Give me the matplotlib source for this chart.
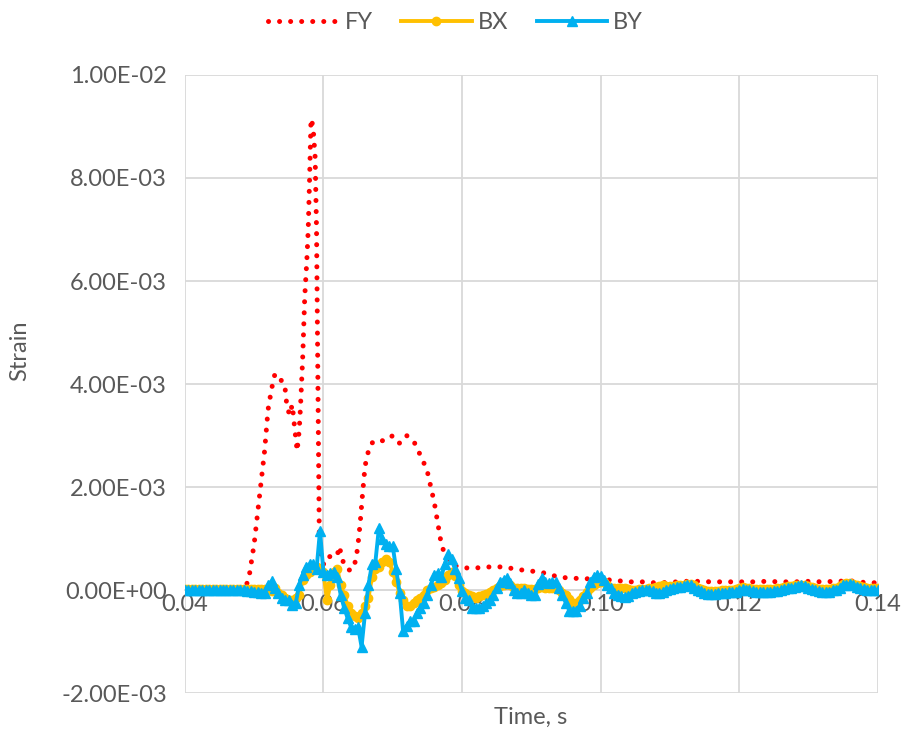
import numpy as np
import matplotlib
matplotlib.use("Agg")
import matplotlib.pyplot as plt
from matplotlib.ticker import FuncFormatter

plt.rcParams['font.family'] = ['Lato', 'DejaVu Sans']

# Time base for BX / BY (s)
t_start = 0.04
t_step = 0.0005
n_pts = 201
time_b = np.round(t_start + t_step * np.arange(n_pts), 5)

# Strain values in units of 1e-3
by_milli = [
    0.0, 0.0, 0.0, 0.0, 0.0, 0.0, 0.0, 0.0, 0.0, 0.0,
    0.0, 0.0, 0.0, 0.0, 0.0, 0.0, 0.0, 0.0, -0.01, -0.02,
    -0.03, -0.04, -0.05, -0.05, 0.1, 0.17, 0.05, -0.05, -0.15, -0.2,
    -0.2, -0.28, -0.25, 0.1, 0.3, 0.45, 0.5, 0.5, 0.4, 1.15,
    0.35, 0.3, 0.33, 0.35, 0.25, -0.1, -0.35, -0.55, -0.72, -0.75,
    -0.72, -1.1, -0.45, 0.1, 0.5, 0.55, 1.2, 1.0, 0.9, 0.85,
    0.85, 0.4, -0.05, -0.8, -0.7, -0.6, -0.6, -0.45, -0.35, -0.25,
    -0.1, 0.1, 0.3, 0.33, 0.25, 0.5, 0.7, 0.6, 0.4, 0.23,
    -0.02, -0.15, -0.2, -0.35, -0.35, -0.35, -0.3, -0.25, -0.2, -0.1,
    0.04, 0.15, 0.2, 0.23, 0.13, 0.0, -0.05, -0.06, 0.0, -0.05,
    -0.1, -0.1, 0.12, 0.23, 0.15, 0.13, 0.15, 0.15, 0.05, -0.1,
    -0.25, -0.4, -0.4, -0.4, -0.3, -0.15, -0.05, 0.15, 0.25, 0.3,
    0.28, 0.2, 0.1, 0.04, -0.05, -0.1, -0.12, -0.13, -0.12, -0.06,
    -0.04, -0.02, 0.0, 0.0, 0.0, -0.02, -0.05, -0.06, -0.03, 0.0,
    0.02, 0.04, 0.06, 0.06, 0.08, 0.1, 0.1, 0.05, 0.0, -0.02,
    -0.06, -0.08, -0.08, -0.07, -0.06, -0.06, -0.05, -0.04, -0.04, -0.03,
    0.0, 0.02, 0.0, 0.0, -0.02, -0.03, -0.04, -0.04, -0.04, -0.03,
    -0.02, -0.02, 0.0, 0.02, 0.04, 0.04, 0.06, 0.08, 0.1, 0.08,
    0.05, 0.03, 0.0, -0.02, -0.04, -0.04, -0.03, 0.0, 0.0, 0.05,
    0.1, 0.1, 0.12, 0.1, 0.06, 0.04, 0.02, 0.0, 0.0, 0.0,
    0.0,
]

bx_milli = [
    0.03, 0.03, 0.03, 0.03, 0.03, 0.03, 0.03, 0.03, 0.03, 0.03,
    0.03, 0.03, 0.03, 0.03, 0.03, 0.03, 0.03, 0.03, 0.03, 0.02,
    0.02, 0.02, 0.02, 0.02, 0.0, -0.02, 0.05, -0.05, -0.1, -0.15,
    -0.2, -0.2, -0.15, -0.1, 0.2, 0.3, 0.35, 0.45, 0.45, 0.4,
    0.35, -0.2, 0.1, 0.35, 0.4, 0.1, -0.1, -0.3, -0.45, -0.5,
    -0.55, -0.45, -0.3, -0.15, 0.25, 0.4, 0.45, 0.55, 0.6, 0.55,
    0.35, 0.15, -0.05, -0.2, -0.3, -0.3, -0.25, -0.2, -0.15, -0.1,
    0.0, 0.05, 0.06, 0.1, 0.13, 0.2, 0.3, 0.35, 0.28, 0.1,
    -0.02, -0.05, -0.1, -0.12, -0.15, -0.12, -0.1, -0.07, -0.04, 0.0,
    0.04, 0.08, 0.1, 0.12, 0.1, 0.05, 0.04, 0.04, 0.04, 0.03,
    0.02, 0.03, 0.05, 0.06, 0.05, 0.05, 0.05, 0.04, 0.0, -0.05,
    -0.1, -0.18, -0.25, -0.25, -0.2, -0.12, -0.03, 0.05, 0.1, 0.13,
    0.15, 0.15, 0.1, 0.05, 0.05, 0.05, 0.05, 0.05, 0.02, 0.0,
    0.0, 0.02, 0.03, 0.03, 0.04, 0.05, 0.06, 0.08, 0.1, 0.08,
    0.08, 0.08, 0.09, 0.1, 0.1, 0.12, 0.12, 0.1, 0.05, 0.03,
    0.0, -0.02, -0.02, -0.02, -0.01, 0.0, 0.0, 0.0, 0.0, 0.02,
    0.04, 0.06, 0.05, 0.04, 0.03, 0.02, 0.02, 0.02, 0.02, 0.03,
    0.03, 0.04, 0.05, 0.06, 0.07, 0.08, 0.09, 0.1, 0.1, 0.1,
    0.08, 0.06, 0.04, 0.03, 0.02, 0.02, 0.03, 0.04, 0.05, 0.08,
    0.12, 0.13, 0.14, 0.12, 0.1, 0.08, 0.06, 0.05, 0.05, 0.05,
    0.05,
]

# FY series (time in s, strain in 1e-3)
fy_time = [
    0.040, 0.044, 0.0485, 0.0492, 0.0500, 0.0505, 0.0510, 0.0515, 0.0520, 0.0525,
    0.0530, 0.0537, 0.0544, 0.0547, 0.0551, 0.0555, 0.0558, 0.0562, 0.0565, 0.0567,
    0.0570, 0.0573, 0.0576, 0.0578, 0.0580, 0.0582, 0.0585, 0.0588, 0.0590, 0.0592,
    0.0594, 0.0597, 0.0600, 0.0605, 0.0610, 0.0615, 0.0620, 0.0623, 0.0627, 0.0630,
    0.0635, 0.0640, 0.0645, 0.0648, 0.0650, 0.0653, 0.0656, 0.0660, 0.0663, 0.0667,
    0.0673, 0.0680, 0.0690, 0.0700, 0.0710, 0.0720, 0.0730, 0.0737, 0.0744, 0.0750,
    0.0755, 0.0760, 0.0765, 0.0770, 0.0775, 0.0785, 0.0800, 0.0820, 0.0840, 0.0860,
    0.0880, 0.0900, 0.0920, 0.0940, 0.0960, 0.0980, 0.1000, 0.1020, 0.1040, 0.1060,
    0.1080, 0.1100, 0.1120, 0.1140, 0.1160, 0.1180, 0.1200, 0.1220, 0.1240, 0.1260,
    0.1280, 0.1300, 0.1320, 0.1340, 0.1360, 0.1380, 0.1400,
]
fy_milli = [
    0.0, 0.0, 0.0, 0.2, 0.9, 1.5, 2.1, 2.7, 3.5, 3.9,
    4.2, 4.1, 4.0, 3.6, 3.4, 3.6, 3.2, 2.7, 3.1, 3.6,
    4.5, 5.7, 6.4, 7.0, 8.0, 9.15, 9.0, 8.4, 7.0, 4.0,
    1.0, 0.6, 0.5, 0.65, 0.65, 0.7, 0.68, 0.85, 0.6, 0.5,
    0.4, 0.38, 0.5, 0.7, 0.9, 1.3, 1.8, 2.4, 2.6, 2.8,
    2.9, 2.9, 2.9, 3.0, 2.85, 3.0, 2.9, 2.7, 2.5, 2.3,
    2.0, 1.7, 1.3, 0.9, 0.7, 0.5, 0.43, 0.43, 0.45, 0.45,
    0.4, 0.37, 0.33, 0.25, 0.23, 0.22, 0.21, 0.19, 0.16, 0.16,
    0.14, 0.15, 0.17, 0.17, 0.16, 0.16, 0.16, 0.16, 0.17, 0.16,
    0.16, 0.17, 0.16, 0.17, 0.18, 0.15, 0.14,
]

x_ticks = [0.04, 0.06, 0.08, 0.10, 0.12, 0.14]
y_ticks = [-0.002, 0.0, 0.002, 0.004, 0.006, 0.008, 0.010]

scale = 1e-3
fy = np.array(fy_milli) * scale
bx = np.array(bx_milli) * scale
by = np.array(by_milli) * scale

text_col = '#595959'
grid_col = '#D9D9D9'
fs = 17

fig = plt.figure(figsize=(9.02, 7.35), dpi=100)
ax = fig.add_axes([0.205, 0.057, 0.768, 0.841])

ax.plot(fy_time, fy, color='#FF0000', lw=3.6, linestyle=(0, (0.01, 2.2)),
        dash_capstyle='round', solid_capstyle='round', label='FY', zorder=3)
ax.plot(time_b, bx, color='#FFC000', lw=2.8, marker='o', markersize=6,
        label='BX', zorder=4)
ax.plot(time_b, by, color='#00B0F0', lw=2.8, marker='^', markersize=7,
        label='BY', zorder=5)

ax.set_xlim(0.04, 0.14)
ax.set_ylim(-0.002, 0.010)
ax.set_xticks(x_ticks)
ax.set_yticks(y_ticks)
ax.xaxis.set_major_formatter(FuncFormatter(lambda v, p: f"{v:.2f}"))
ax.yaxis.set_major_formatter(FuncFormatter(lambda v, p: f"{v:.2E}"))

ax.grid(True, color=grid_col, lw=1.3, zorder=0)
ax.set_axisbelow(True)
for s in ['top', 'right', 'left']:
    ax.spines[s].set_visible(False)
ax.spines['bottom'].set_position(('data', 0))
ax.spines['bottom'].set_color(grid_col)
ax.spines['bottom'].set_linewidth(1.3)
ax.spines['bottom'].set_zorder(1)

ax.tick_params(axis='both', length=0, labelsize=fs, colors=text_col)
ax.tick_params(axis='y', pad=13)
ax.tick_params(axis='x', pad=3)

fig.text(0.022, 0.523, 'Strain', fontsize=fs, color=text_col,
         ha='center', va='center', rotation=90)
fig.text(0.588, 0.024, 'Time, s', fontsize=fs, color=text_col,
         ha='center', va='center')

leg = fig.legend(loc='upper center', bbox_to_anchor=(0.505, 1.012), ncol=3,
                 frameon=False, fontsize=fs, handlelength=3.0,
                 columnspacing=1.2, handletextpad=0.25)
for txt in leg.get_texts():
    txt.set_color(text_col)

fig.savefig('out.png', dpi=100)
